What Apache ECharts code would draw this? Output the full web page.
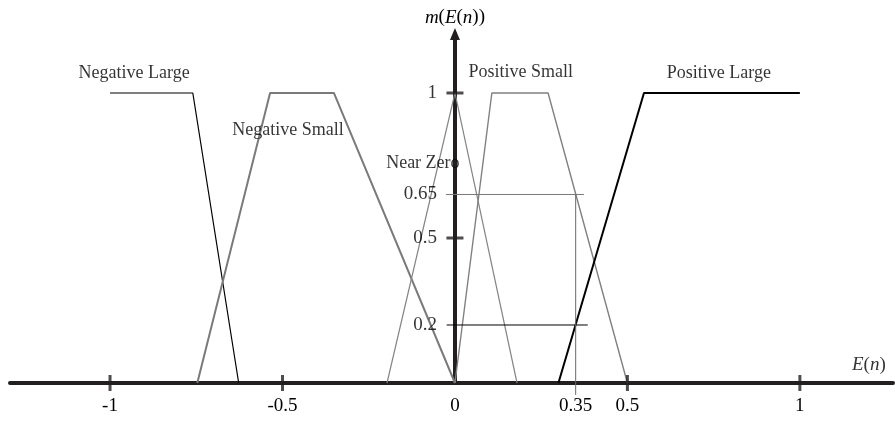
<!DOCTYPE html>
<html>
<head>
<meta charset="utf-8">
<script src="https://cdn.jsdelivr.net/npm/echarts@6/dist/echarts.min.js"></script>
<style>html,body{margin:0;padding:0;background:#fff}#c{width:895px;height:427px}</style>
</head>
<body>
<div id="c"></div>
<script>
// Tick labels
const xTickLabels = [-1, -0.5, 0, 0.35, 0.5, 1];
const yTickLabels = [0.2, 0.5, 0.65, 1];
const xMajorTicks = [-1, -0.5, 0.5, 1];
const yMajorTicks = [0.5, 1];

// Membership functions [E(n), m(E(n))]
const negativeLarge = [[-1, 1], [-0.76, 1], [-0.627, 0]];
const negativeSmall = [[-0.747, 0], [-0.536, 1], [-0.351, 1], [0, 0]];
const nearZero = [[-0.197, 0], [0, 1], [0.18, 0]];
const positiveSmall = [[0, 0], [0.107, 1], [0.27, 1], [0.5, 0]];
const positiveLarge = [[0.30, 0], [0.548, 1], [1, 1]];

// Guide lines at E(n) = 0.35
const guide065 = [[-0.026, 0.65], [0.374, 0.65]];
const guide02 = [[-0.024, 0.2], [0.385, 0.2]];
const guideVertical = [[0.35, 0.65], [0.35, -0.041]];

// Curve names and their anchor points
const curveNames = ['Negative Large', 'Negative Small', 'Near Zero', 'Positive Small', 'Positive Large'];
const curveNameAnchors = [[-0.93, 1.069], [-0.484, 0.872], [-0.093, 0.759], [0.191, 1.072], [0.765, 1.069]];

const FONT = '"Liberation Serif", "Times New Roman", serif';
const INK = '#231f20';

function line(data, color, width, z) {
  return {
    type: 'line', data: data, symbol: 'none', clip: false, animation: false,
    lineStyle: { color: color, width: width }, z: z || 3, silent: true
  };
}

const chart = echarts.init(document.getElementById('c'), null, { renderer: 'canvas' });
chart.setOption({
  animation: false,
  grid: { left: 10, right: 2, top: 34, bottom: 44, containLabel: false, outerBoundsMode: 'none' },
  xAxis: {
    type: 'value', min: -1.29, max: 1.27,
    axisLine: { lineStyle: { color: INK, width: 4 } },
    axisTick: { show: false },
    splitLine: { show: false },
    axisLabel: { customValues: xTickLabels, margin: 14, fontFamily: FONT, fontSize: 19, color: '#000' }
  },
  yAxis: {
    type: 'value', min: 0, max: 1.2034,
    axisLine: { onZero: true, symbol: ['none', 'triangle'], symbolSize: [10, 12], lineStyle: { color: INK, width: 4 } },
    axisTick: { show: false },
    splitLine: { show: false },
    axisLabel: { show: false },
    name: '{i|m}({i|E}({i|n}))',
    nameLocation: 'end',
    nameGap: 7,
    nameTextStyle: {
      fontFamily: FONT, fontSize: 19, color: '#000',
      rich: { i: { fontFamily: FONT, fontSize: 19, fontStyle: 'italic', color: '#000' } }
    }
  },
  series: [
    line(negativeLarge, '#000', 1.2),
    line(negativeSmall, '#7a7a7a', 2),
    line(nearZero, '#858585', 1.2),
    line(positiveSmall, '#808080', 1.4),
    line(positiveLarge, '#000', 2),
    line(guide065, '#7a7a7a', 1),
    line(guide02, '#000', 1),
    line(guideVertical, '#6a6a6a', 1),
    {
      type: 'scatter', clip: false, silent: true, z: 5,
      symbol: 'rect', symbolSize: [3, 16],
      itemStyle: { color: INK },
      data: xMajorTicks.map(v => [v, 0])
    },
    {
      type: 'scatter', clip: false, silent: true, z: 5,
      symbol: 'rect', symbolSize: [17, 3],
      itemStyle: { color: INK },
      data: yMajorTicks.map(v => [0, v])
    },
    {
      type: 'scatter', clip: false, silent: true, z: 6,
      symbolSize: 0,
      data: yTickLabels.map(v => ({ name: String(v), value: [0, v] })),
      label: {
        show: true, position: 'left', distance: 18, formatter: '{b}',
        fontFamily: FONT, fontSize: 19, color: '#000'
      }
    },
    {
      type: 'scatter', clip: false, silent: true, z: 6,
      symbolSize: 0,
      data: curveNames.map((n, i) => ({ name: n, value: curveNameAnchors[i] })),
      label: {
        show: true, position: 'inside', formatter: '{b}',
        fontFamily: FONT, fontSize: 18, color: '#000'
      }
    },
    {
      type: 'scatter', clip: false, silent: true, z: 6,
      symbolSize: 0,
      data: [{ name: 'E(n)', value: [1.2, 0.062] }],
      label: {
        show: true, position: 'inside', formatter: '{i|E}({i|n})',
        fontFamily: FONT, fontSize: 19, color: '#000',
        rich: { i: { fontFamily: FONT, fontSize: 19, fontStyle: 'italic', color: '#000' } }
      }
    }
  ]
});
</script>
</body>
</html>
